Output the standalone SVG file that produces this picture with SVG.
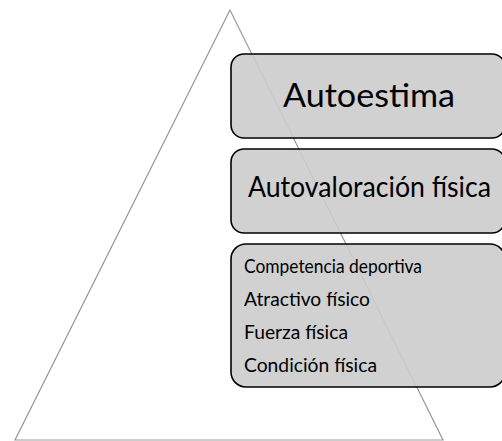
<svg xmlns="http://www.w3.org/2000/svg" width="502" height="441" viewBox="0 0 502 441">
<style>
.box{fill:#cccccc;fill-opacity:0.9;stroke:#000;stroke-width:1.6}
.t{font-family:Lato,"Open Sans","Liberation Sans",sans-serif;fill:#000}
.big{font-size:32px}
.mid{font-size:28.5px}
.sm{font-size:19.5px}
</style>
<rect width="502" height="441" fill="#ffffff"/>
<g id="pyramid">
<polygon points="230,10 15,440 443,440" fill="#fefefe" stroke="#999999" stroke-width="1.2"/>
</g>
<g id="connectors"></g>
<g id="autoestima">
<rect class="box" x="231" y="54" width="274" height="84" rx="13"/>
<text class="t big" x="369" y="107" text-anchor="middle" textLength="172" lengthAdjust="spacingAndGlyphs">Autoestima</text>
</g>
<g id="autovaloracion">
<rect class="box" x="231" y="149" width="274" height="84" rx="13"/>
<text class="t mid" x="248" y="197" textLength="243" lengthAdjust="spacingAndGlyphs">Autovaloración física</text>
</g>
<g id="componentes">
<rect class="box" x="231" y="244" width="274" height="143" rx="15"/>
<text class="t sm" x="244" y="273" textLength="178" lengthAdjust="spacingAndGlyphs">Competencia deportiva</text>
<text class="t sm" x="244" y="306" textLength="126" lengthAdjust="spacingAndGlyphs">Atractivo físico</text>
<text class="t sm" x="244" y="339" textLength="104" lengthAdjust="spacingAndGlyphs">Fuerza física</text>
<text class="t sm" x="244" y="372" textLength="133" lengthAdjust="spacingAndGlyphs">Condición física</text>
</g>
</svg>
